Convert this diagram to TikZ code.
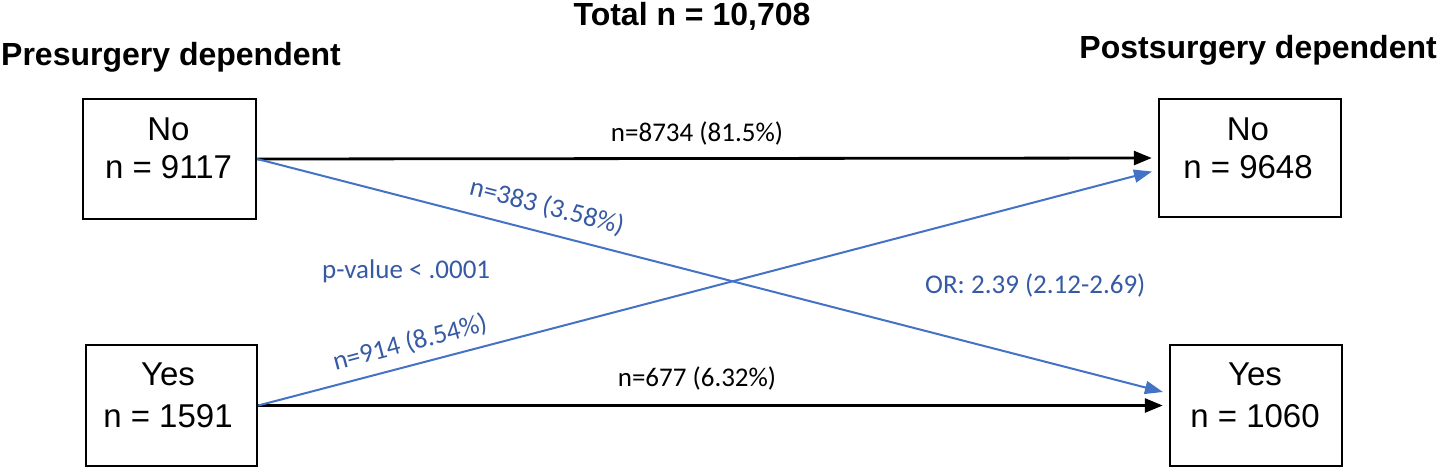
\documentclass[tikz,border=0pt]{standalone}
\usepackage{fontspec}
\setmainfont{Liberation Sans}
\newfontfamily\calib{Carlito}
\usetikzlibrary{arrows.meta}
\definecolor{lineblue}{RGB}{68,114,196}
\definecolor{textblue}{RGB}{55,90,165}
\begin{document}
\begin{tikzpicture}[x=1pt,y=-1pt,
  box/.style={draw=black, line width=2.5pt, inner sep=0pt},
  boxtxt/.style={font=\fontsize{33}{40}\selectfont, anchor=base, inner sep=0pt},
  head/.style={font=\bfseries\fontsize{32}{38}\selectfont, inner sep=0pt},
  blk/.style={draw=black, line width=2.8pt, shorten >=6pt, -{Triangle[length=18pt,width=14pt]}},
  blu/.style={draw=lineblue, line width=2pt, shorten >=6pt, -{Triangle[length=18pt,width=13pt]}},
  lbl/.style={font=\calib\fontsize{27}{32}\selectfont, inner sep=0pt},
]
\useasboundingbox[fill=white] (0,0) rectangle (1440,471);

% headings
\node[head, anchor=base] (total) at (692,25) {Total n = 10,708};
\node[head, anchor=base west] (pre) at (1,65) {Presurgery dependent};
\node[head, anchor=base east] (post) at (1437,58) {Postsurgery dependent};

% boxes
\node[box, minimum width=173pt, minimum height=120pt] (L1) at (169.5,159) {};
\node[box, minimum width=182pt, minimum height=118pt] (R1) at (1250,158) {};
\node[box, minimum width=171pt, minimum height=121pt] (L2) at (171.5,405.5) {};
\node[box, minimum width=172pt, minimum height=121pt] (R2) at (1256,405.5) {};

\node[boxtxt] (L1a) at (168.5,140) {No};
\node[boxtxt] (L1b) at (168.5,178) {n = 9117};
\node[boxtxt] (R1a) at (1248,140) {No};
\node[boxtxt] (R1b) at (1248,178) {n = 9648};
\node[boxtxt] (L2a) at (168,385) {Yes};
\node[boxtxt] (L2b) at (168,427) {n = 1591};
\node[boxtxt] (R2a) at (1255,385) {Yes};
\node[boxtxt] (R2b) at (1255,427) {n = 1060};

% connectors
\draw[blk] (L1.east) -- (R1.west);
\draw[blk] (L2.east) -- (R2.west);
\draw[blu] (L1.east) -- ([yshift=12pt]R2.west);
\draw[blu] (L2.east) -- ([yshift=-12pt]R1.west);

% labels
\node[lbl, anchor=base] (l8734) at (697,141) {n=8734 (81.5\%)};
\node[lbl, anchor=base] (l677) at (697,386) {n=677 (6.32\%)};
\node[lbl, text=textblue, rotate=-14.5] (l383) at (547,207) {n=383 (3.58\%)};
\node[lbl, text=textblue, rotate=14.8] (l914) at (410,343) {n=914 (8.54\%)};
\node[lbl, text=textblue, anchor=base west] (pval) at (322,278) {p-value < .0001};
\node[lbl, text=textblue, anchor=base west] (or) at (925,293) {OR: 2.39 (2.12-2.69)};
\end{tikzpicture}
\end{document}
